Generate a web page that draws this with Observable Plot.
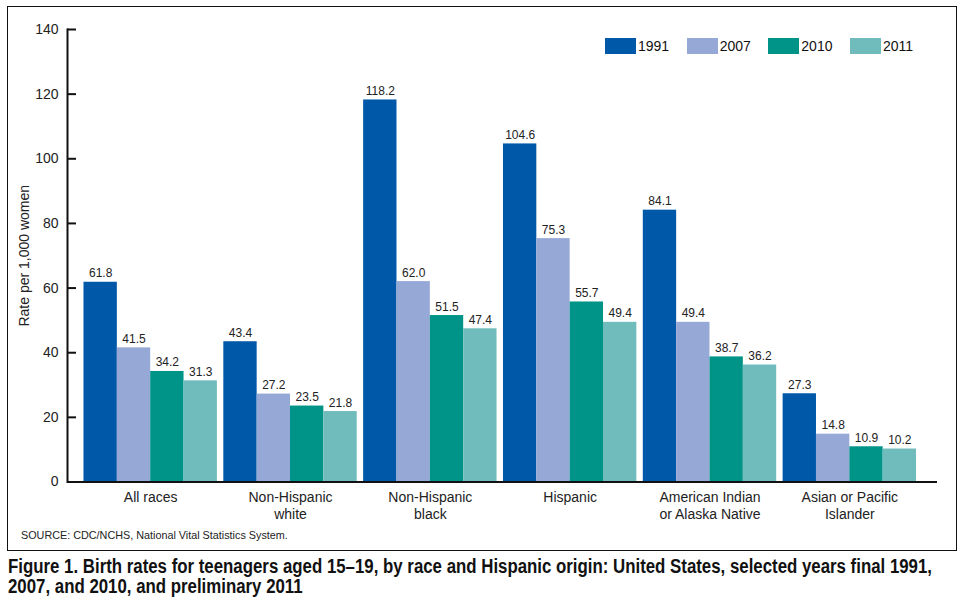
<!DOCTYPE html>
<html><head><meta charset="utf-8">
<script src="https://cdn.jsdelivr.net/npm/d3@7"></script>
<script src="https://cdn.jsdelivr.net/npm/@observablehq/plot@0.6"></script>
<style>
body{margin:0;background:#fff;font-family:"Liberation Sans",Arial,sans-serif;width:962px;height:604px;position:relative;overflow:hidden;}
#box{position:absolute;left:7px;top:6px;width:950px;height:545px;box-sizing:border-box;border:1.5px solid #111;}
#chart{position:absolute;left:0;top:0;}
#legend{position:absolute;left:605px;top:29px;}
#source{position:absolute;left:21px;top:529px;font-size:10.8px;color:#222;white-space:nowrap;}
#caption{position:absolute;left:8px;top:556px;font-family:"Liberation Sans",Arial,sans-serif;font-weight:bold;font-size:19.5px;line-height:20px;color:#111;white-space:nowrap;transform-origin:0 0;}
.lg-swatches{font-family:"Liberation Sans",Arial,sans-serif !important;font-size:14px !important;margin:0 !important;color:#111;}
.lg-swatch{margin-right:17.5px !important;}
.lg-swatch > svg{margin-right:2px !important;}
</style></head>
<body>
<div id="box"></div>
<div id="chart"></div>
<div id="legend"></div>
<div id="source">SOURCE: CDC/NCHS, National Vital Statistics System.</div>
<div id="caption"><span id="cap1">Figure 1. Birth rates for teenagers aged 15–19, by race and Hispanic origin: United States, selected years final 1991,</span><br>2007, and 2010, and preliminary 2011</div>
<script>
const races = ["All races", "Non-Hispanic white", "Non-Hispanic black", "Hispanic", "American Indian or Alaska Native", "Asian or Pacific Islander"];
const raceLabels = ["All races", "Non-Hispanic\nwhite", "Non-Hispanic\nblack", "Hispanic", "American Indian\nor Alaska Native", "Asian or Pacific\nIslander"];
const years = ["1991", "2007", "2010", "2011"];
const colors = ["#0058a8", "#96a8d6", "#009488", "#70bcbc"];
const v1991 = [61.8, 43.4, 118.2, 104.6, 84.1, 27.3];
const v2007 = [41.5, 27.2, 62.0, 75.3, 49.4, 14.8];
const v2010 = [34.2, 23.5, 51.5, 55.7, 38.7, 10.9];
const v2011 = [31.3, 21.8, 47.4, 49.4, 36.2, 10.2];
const yTicks = [0, 20, 40, 60, 80, 100, 120, 140];
const yLabel = "Rate per 1,000 women";

const series = [v1991, v2007, v2010, v2011];
const rows = [];
years.forEach((yr, k) => races.forEach((r, i) => rows.push({race: r, year: yr, value: series[k][i]})));
const labelOf = new Map(races.map((r, i) => [r, raceLabels[i]]));

function build(bw) {
  const w = bw / 4;
  const marks = [];
  years.forEach((yr, k) => {
    const d = rows.filter(r => r.year === yr);
    marks.push(Plot.barY(d, {x: "race", y: "value", fill: "year", insetLeft: k * w, insetRight: (3 - k) * w}));
    marks.push(Plot.text(d, {x: "race", y: "value", text: r => r.value.toFixed(1), dx: (k - 1.5) * w, dy: -5, lineAnchor: "bottom", fontSize: 12, fill: "#222"}));
  });
  marks.push(Plot.axisY({ticks: yTicks, tickSize: -9, tickPadding: 18, strokeWidth: 2, stroke: "#111", fontSize: 14, fill: "#222",
    label: yLabel, labelArrow: "none", labelAnchor: "center", labelOffset: 48}));
  marks.push(Plot.frame({anchor: "left", stroke: "#111", strokeWidth: 2}));
  marks.push(Plot.axisX({tickSize: 0, tickPadding: 9, fontSize: 14, fill: "#222", lineHeight: 1.15, tickFormat: r => labelOf.get(r), label: null}));
  marks.push(Plot.ruleY([0], {stroke: "#111", strokeWidth: 2}));
  return Plot.plot({
    width: 962, height: 530,
    marginLeft: 67, marginRight: 25, marginTop: 29, marginBottom: 48.5,
    x: {domain: races, paddingInner: 0.046, paddingOuter: 0.134, align: 0.44, round: false},
    y: {domain: [0, 140], label: yLabel, labelArrow: "none"},
    color: {domain: years, range: colors},
    style: {fontFamily: "'Liberation Sans', Arial, sans-serif", background: "transparent", overflow: "visible"},
    marks
  });
}
const probe = build(133);
const bw = probe.scale("x").bandwidth;
const chart = build(bw);
document.getElementById("chart").appendChild(chart);

const legend = Plot.legend({color: {domain: years, range: colors}, legend: "swatches", swatchWidth: 31, swatchHeight: 16, className: "lg"});
document.getElementById("legend").appendChild(legend);

// condense caption like a narrow bold face: first line spans 924px in the reference
const cap1 = document.getElementById("cap1");
const wid = cap1.getBoundingClientRect().width;
document.getElementById("caption").style.transform = `scaleX(${924 / wid})`;
</script>
</body></html>
